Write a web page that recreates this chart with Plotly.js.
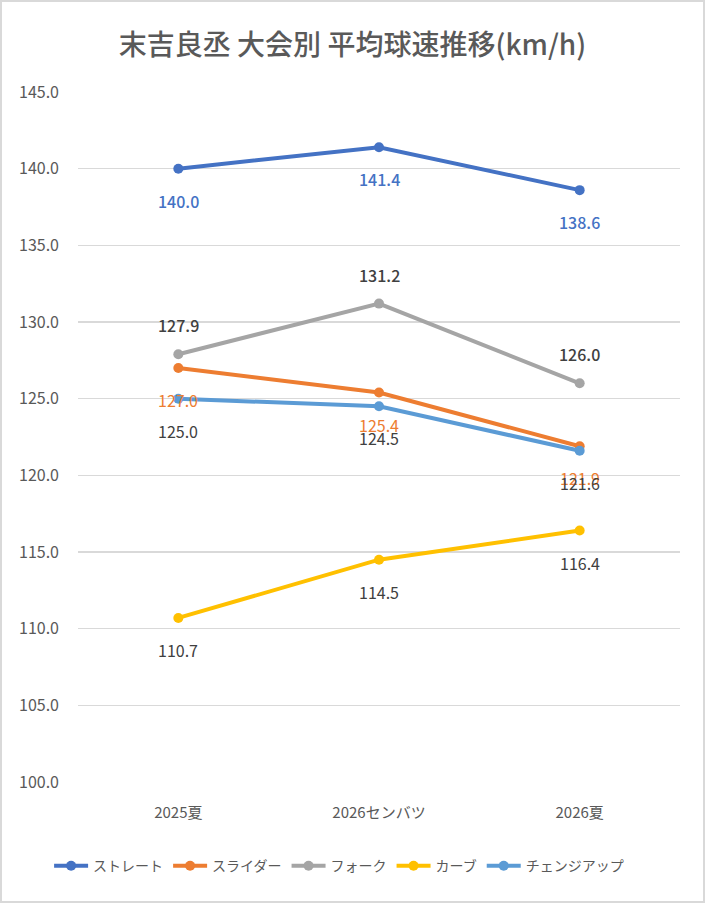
<!DOCTYPE html>
<html>
<head>
<meta charset="utf-8">
<script src="https://cdn.plot.ly/plotly-3.0.1.min.js"></script>
<style>
  html, body { margin: 0; padding: 0; background: #fff; }
  #plot { width: 705px; height: 903px; box-sizing: border-box; border: 2px solid #d9d9d9; overflow: hidden; }
</style>
</head>
<body>
<div id="plot"></div>
<script>
const categories = ['2025夏', '2026センバツ', '2026夏'];
const seriesNames = ['ストレート', 'スライダー', 'フォーク', 'カーブ', 'チェンジアップ'];
const straight = [140.0, 141.4, 138.6];
const slider = [127.0, 125.4, 121.9];
const fork = [127.9, 131.2, 126.0];
const curve = [110.7, 114.5, 116.4];
const changeup = [125.0, 124.5, 121.6];
const yTicks = [100, 105, 110, 115, 120, 125, 130, 135, 140, 145];

const FONT = '"Noto Sans CJK JP", "Noto Sans", sans-serif';
const allValues = [straight, slider, fork, curve, changeup];
const colors = ['#4472c4', '#ed7d31', '#a5a5a5', '#ffc000', '#5b9bd5'];
// label look per series: colour, weight, above/below
const labelColor = ['#4472c4', '#ed7d31', '#404040', '#404040', '#404040'];
const labelWeight = [500, 400, 500, 400, 400];
const labelShift = [-32, -32, 29, -32, -32];

const traces = allValues.map((vals, i) => ({
  x: categories,
  y: vals,
  name: seriesNames[i],
  mode: 'lines+markers',
  type: 'scatter',
  line: { color: colors[i], width: 4 },
  marker: { color: colors[i], size: 10 },
  hoverinfo: 'skip',
}));

const annotations = [];
allValues.forEach((vals, i) => {
  vals.forEach((v, j) => {
    annotations.push({
      x: categories[j],
      y: v,
      xref: 'x',
      yref: 'y',
      text: v.toFixed(1),
      showarrow: false,
      yshift: labelShift[i],
      font: { family: FONT, size: 16, color: labelColor[i], weight: labelWeight[i] },
    });
  });
});

const layout = {
  width: 701,
  height: 899,
  paper_bgcolor: '#ffffff',
  plot_bgcolor: '#ffffff',
  font: { family: FONT, color: '#595959' },
  title: {
    text: '末吉良丞 大会別 平均球速推移(km/h)',
    x: 0.5,
    xanchor: 'center',
    y: 0.952,
    yanchor: 'middle',
    yref: 'container',
    font: { family: FONT, size: 28, color: '#595959', weight: 500 },
  },
  margin: { l: 76, r: 23, t: 90, b: 119 },
  xaxis: {
    type: 'category',
    showgrid: false,
    zeroline: false,
    showline: false,
    ticks: '',
    ticklabelstandoff: 20,
    tickfont: { family: FONT, size: 15, color: '#595959' },
    range: [-0.5, 2.5],
  },
  yaxis: {
    range: [100, 145],
    tickvals: yTicks,
    ticktext: yTicks.map(t => t.toFixed(1)),
    gridcolor: '#d9d9d9',
    gridwidth: 1.5,
    zeroline: false,
    showline: false,
    ticks: '',
    ticklabelstandoff: 18,
    tickfont: { family: FONT, size: 16, color: '#595959' },
    automargin: false,
  },
  showlegend: true,
  legend: {
    orientation: 'h',
    x: -0.048,
    xanchor: 'left',
    y: -0.122,
    yanchor: 'middle',
    font: { family: FONT, size: 14, color: '#595959' },
    itemwidth: 34,
    tracegroupgap: 0,
  },
  annotations: annotations,
  dragmode: false,
};

const config = {
  displayModeBar: false,
  staticPlot: true,
};

Plotly.newPlot('plot', traces, layout, config);
</script>
</body>
</html>
